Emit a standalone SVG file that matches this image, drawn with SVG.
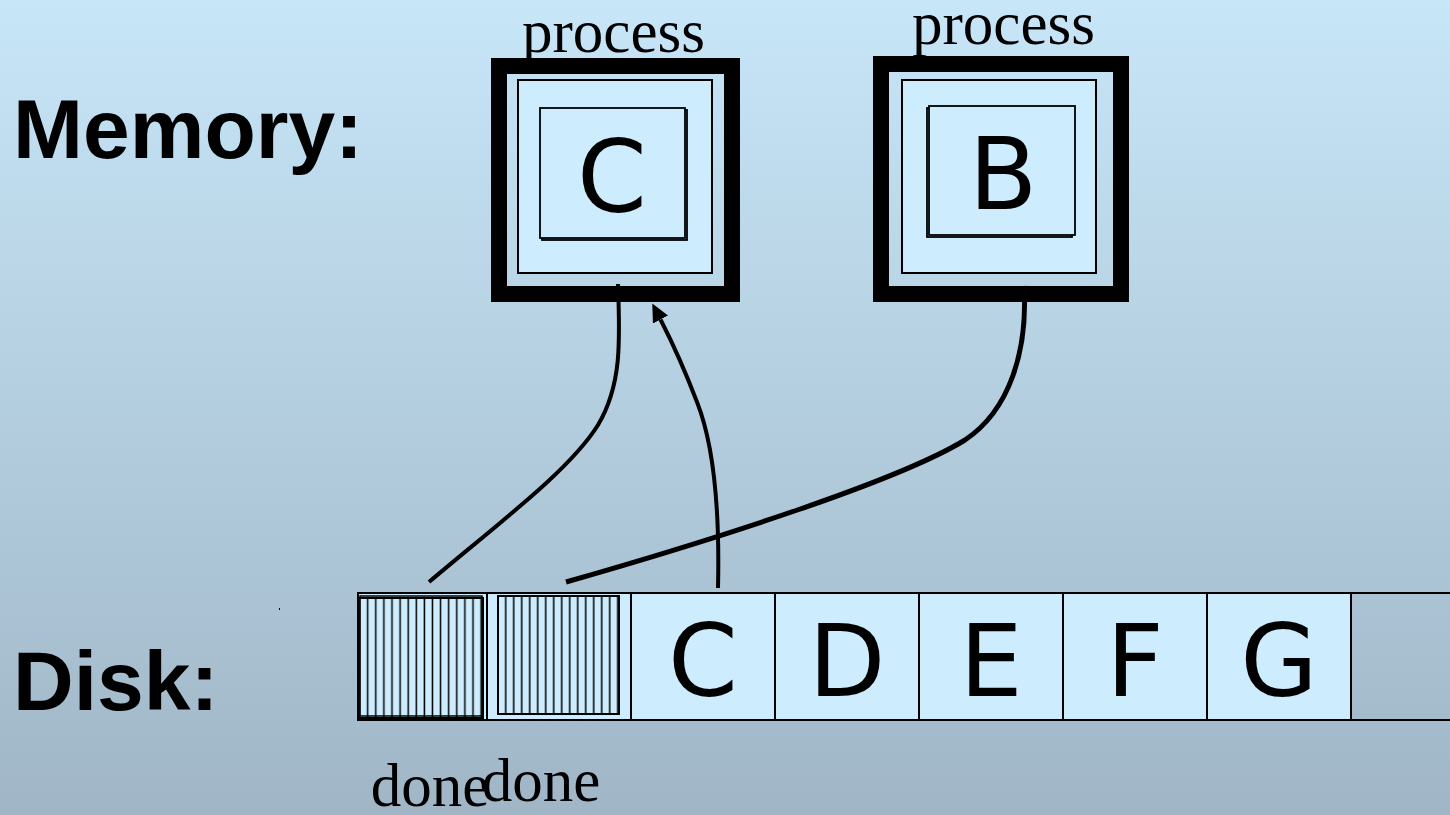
<svg xmlns="http://www.w3.org/2000/svg" width="1450" height="815" viewBox="0 0 1450 815">
  <defs>
    <linearGradient id="bg" x1="0" y1="0" x2="0" y2="1">
      <stop offset="0" stop-color="#c7e6f8"/>
      <stop offset="1" stop-color="#a0b6c6"/>
    </linearGradient>
    <pattern id="hatch1" patternUnits="userSpaceOnUse" x="363.7" y="0" width="8.1" height="20">
      <line x1="4" y1="0" x2="4" y2="20" stroke="#000" stroke-width="1.5"/>
    </pattern>
    <pattern id="hatch2" patternUnits="userSpaceOnUse" x="501.7" y="0" width="8.0" height="20">
      <line x1="4" y1="0" x2="4" y2="20" stroke="#000" stroke-width="1.5"/>
    </pattern>
    <marker id="arrow" viewBox="0 0 20 20" refX="0" refY="10" markerWidth="20" markerHeight="20" markerUnits="userSpaceOnUse" orient="auto">
      <path d="M0,1.5 L18,10 L0,18.5 Z" fill="#000"/>
    </marker>
  </defs>
  <style>
    .label { font-family: "Liberation Sans", Arial, sans-serif; font-weight: bold; font-size: 84px; fill: #000; }
    .serif { font-family: "Liberation Serif", "Times New Roman", serif; font-size: 61px; fill: #000; text-anchor: middle; }
    .letter { font-family: "DejaVu Sans", Verdana, sans-serif; font-size: 100px; fill: #000; text-anchor: middle; }
    .frame { fill: none; stroke: #000; stroke-width: 16; }
    .panel { fill: #cdecfe; stroke: #000; stroke-width: 2; }
    .page { fill: #cdecfe; stroke: #000; stroke-width: 1.8; }
    .cell { fill: #cdecfe; stroke: #000; stroke-width: 2; }
    .link { fill: none; stroke: #000; stroke-linecap: butt; }
  </style>

  <rect x="0" y="0" width="1450" height="815" fill="url(#bg)"/>

  <text class="label" x="13" y="158">Memory:</text>
  <text class="label" x="13" y="710">Disk:</text>
  <rect x="279" y="608" width="1" height="2" fill="#000"/>

  <!-- process holding page C -->
  <g id="process-c">
    <text class="serif" x="613.5" y="52">process</text>
    <rect class="frame" x="499" y="66" width="233" height="228"/>
    <rect class="panel" x="518" y="80" width="194" height="193"/>
    <rect class="page" x="542" y="110" width="145" height="130"/>
    <rect class="page" x="540" y="108" width="145" height="130"/>
    <text class="letter" x="612" y="212">C</text>
  </g>

  <!-- process holding page B -->
  <g id="process-b">
    <text class="serif" x="1003.5" y="44">process</text>
    <rect class="frame" x="881" y="64" width="240" height="230"/>
    <rect class="panel" x="902" y="80" width="194" height="193"/>
    <rect class="page" x="927" y="108" width="145" height="129"/>
    <rect class="page" x="929" y="106" width="146" height="129"/>
    <text class="letter" x="1003" y="209">B</text>
  </g>

  <!-- disk blocks -->
  <g id="disk">
    <rect class="cell" x="358" y="593" width="129" height="127"/>
    <rect class="cell" x="487" y="593" width="144" height="127"/>
    <rect class="cell" x="631" y="593" width="144" height="127"/>
    <rect class="cell" x="775" y="593" width="144" height="127"/>
    <rect class="cell" x="919" y="593" width="144" height="127"/>
    <rect class="cell" x="1063" y="593" width="144" height="127"/>
    <rect class="cell" x="1207" y="593" width="144" height="127"/>
    <line x1="1351" y1="593" x2="1450" y2="593" stroke="#000" stroke-width="2"/>
    <line x1="1351" y1="720" x2="1450" y2="720" stroke="#000" stroke-width="2"/>
  </g>

  <g id="block-done-1">
    <rect x="358" y="598" width="125" height="120" fill="url(#hatch1)" stroke="#000" stroke-width="2"/>
    <rect x="360" y="596" width="122" height="120" fill="none" stroke="#000" stroke-width="1.5"/>
    <text class="serif" x="430" y="806">done</text>
  </g>

  <g id="block-done-2">
    <rect x="498" y="596" width="121" height="118" fill="url(#hatch2)" stroke="#000" stroke-width="2"/>
    <text class="serif" x="541" y="801">done</text>
  </g>

  <g id="block-c"><text class="letter" x="703" y="696">C</text></g>
  <g id="block-d"><text class="letter" x="847" y="696">D</text></g>
  <g id="block-e"><text class="letter" x="991" y="696">E</text></g>
  <g id="block-f"><text class="letter" x="1135" y="696">F</text></g>
  <g id="block-g"><text class="letter" x="1279" y="696">G</text></g>

  <!-- connectors -->
  <g id="connectors">
    <path class="link" stroke-width="4" d="M429,582 C500,522 570,470 598,425 C622,385 620,340 618,284"/>
    <path class="link" stroke-width="4" d="M718,588 C720,500 712,440 697,402 C684,368 670,338 660.5,319.5" marker-end="url(#arrow)"/>
    <path class="link" stroke-width="5" d="M566,582 C720,538 900,480 965,440 C1010,410 1028,350 1024,286"/>
  </g>
</svg>
